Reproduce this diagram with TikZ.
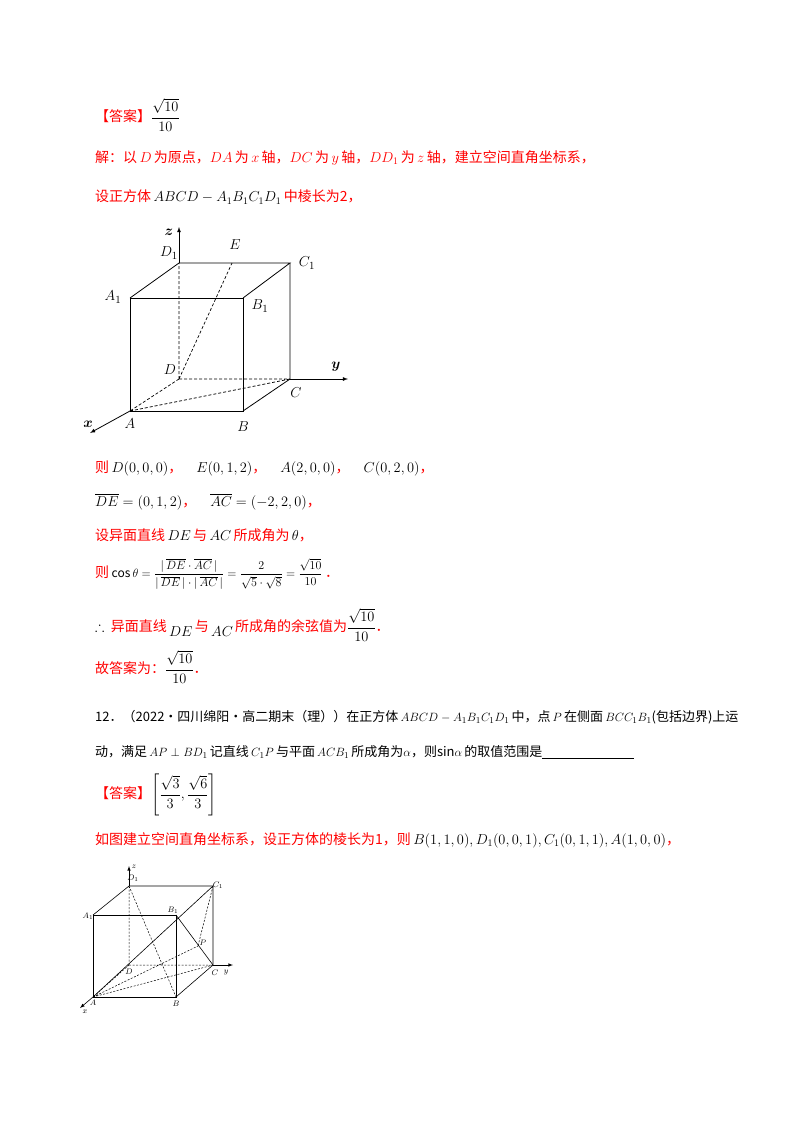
\documentclass[tikz,border=0pt]{standalone}
\usepackage{amsmath,amssymb,bm}
\usepackage{fontspec}
\setmainfont{Noto Sans CJK SC}
\definecolor{ansred}{RGB}{255,0,0}
\begin{document}
\begin{tikzpicture}[x=1pt,y=-1pt,
  txt/.style={anchor=west,inner sep=0pt,font=\fontsize{14}{16}\selectfont},
  rtxt/.style={txt,text=ansred},
  lbl/.style={inner sep=0pt,font=\fontsize{15}{16}\selectfont},
  slbl/.style={inner sep=0pt,font=\fontsize{8}{9}\selectfont},
  edge/.style={line width=0.8pt},
  hid/.style={line width=0.7pt,dashed,dash pattern=on 3pt off 2pt},
  axis/.style={line width=0.8pt,-latex}]
\useasboundingbox (0,0) rectangle (800,1132);
\fill[white] (0,0) rectangle (800,1132);
% ---- text ----
\node[rtxt] (t1) at (95,115) {【答案】\textcolor{black}{$\dfrac{\sqrt{10}}{10}$}};
\node[rtxt] (t2) at (95,158) {解：以\,$D$\,为原点，$DA$\,为\,$x$\,轴，$DC$\,为\,$y$\,轴，$DD_1$\,为\,$z$\,轴，建立空间直角坐标系，};
\node[rtxt] (t3) at (95,197) {设正方体\,\textcolor{black}{$ABCD-A_1B_1C_1D_1$}\,中棱长为2，};
\node[rtxt] (t5) at (95,468) {则\,\textcolor{black}{$D(0,0,0)$}，\quad\textcolor{black}{$E(0,1,2)$}，\quad\textcolor{black}{$A(2,0,0)$}，\quad\textcolor{black}{$C(0,2,0)$}，};
\node[rtxt] (t6) at (95,502) {\textcolor{black}{$\overline{DE}=(0,1,2)$}，\quad\textcolor{black}{$\overline{AC}=(-2,2,0)$}，};
\node[rtxt] (t7) at (95,535) {设异面直线\,\textcolor{black}{$DE$}\,与\,\textcolor{black}{$AC$}\,所成角为\,\textcolor{black}{$\theta$}，};
\node[rtxt] (t8) at (95,574) {则\,\textcolor{black}{\fontsize{12}{13}\selectfont$\cos\theta=\dfrac{|\,\overline{DE}\cdot\overline{AC}\,|}{|\,\overline{DE}\,|\cdot|\,\overline{AC}\,|}=\dfrac{2}{\sqrt5\cdot\sqrt8}=\dfrac{\sqrt{10}}{10}$}\,．};
\node[rtxt] (t9) at (95,625) {\textcolor{black}{$\therefore$}\ \ 异面直线\,\raisebox{-5pt}{\textcolor{black}{$DE$}}\,与\,\raisebox{-5pt}{\textcolor{black}{$AC$}}\,所成角的余弦值为\textcolor{black}{$\dfrac{\sqrt{10}}{10}$}．};
\node[rtxt] (t10) at (95,667) {故答案为：\textcolor{black}{$\dfrac{\sqrt{10}}{10}$}．};
\node[txt,font=\fontsize{13}{15}\selectfont] (t11) at (95,717) {12．（2022·四川绵阳·高二期末（理））在正方体\,$ABCD-A_1B_1C_1D_1$\,中，点\,$P$\,在侧面\,$BCC_1B_1$(包括边界)上运};
\node[txt,font=\fontsize{13}{15}\selectfont] (t12) at (95,752) {动，满足\,$AP\perp BD_1$\,记直线\,$C_1P$\,与平面\,$ACB_1$\,所成角为$\alpha$，则sin$\alpha$\,的取值范围是\rule[-2pt]{92pt}{0.6pt}};
\node[rtxt] (t13) at (95,795) {【答案】\textcolor{black}{$\left[\dfrac{\sqrt3}{3},\dfrac{\sqrt6}{3}\right]$}};
\node[rtxt] (t14) at (95,840) {如图建立空间直角坐标系，设正方体的棱长为1，则\,\textcolor{black}{$B(1,1,0),D_1(0,0,1),C_1(0,1,1),A(1,0,0)$}，};
% ---- cube 1 ----
\coordinate (A) at (130,411); \coordinate (B) at (243,411);
\coordinate (C) at (290,379); \coordinate (D) at (179,379);
\coordinate (A1) at (130,298); \coordinate (B1) at (243,298);
\coordinate (C1) at (290,263); \coordinate (D1) at (179,263);
\coordinate (E) at (232,263);
\coordinate (zt) at (179,227); \coordinate (yt) at (348,379); \coordinate (xt) at (90,433);
\draw[edge] (A) -- (B) -- (B1) -- (A1) -- cycle;
\draw[edge] (A1) -- (D1) -- (C1) -- (B1);
\draw[edge] (B) -- (C) -- (C1);
\draw[hid] (D) -- (D1) (D) -- (C) (D) -- (A) (A) -- (C) (D) -- (E);
\draw[axis] (D1) -- (zt);
\draw[axis] (C) -- (yt);
\draw[axis] (A) -- (xt);
\node[lbl] (lz) at (169,232) {$\bm{z}$};
\node[lbl] (ly) at (336,367) {$\bm{y}$};
\node[lbl] (lx) at (88,424) {$\bm{x}$};
\node[lbl] (lD1) at (169,253) {$D_1$};
\node[lbl] (lE) at (235,245) {$E$};
\node[lbl] (lC1) at (307,263) {$C_1$};
\node[lbl] (lA1) at (113,297) {$A_1$};
\node[lbl] (lB1) at (260,306) {$B_1$};
\node[lbl] (lD) at (170,370) {$D$};
\node[lbl] (lC) at (296,393) {$C$};
\node[lbl] (lA) at (130,424) {$A$};
\node[lbl] (lB) at (243,427) {$B$};
% ---- cube 2 ----
\coordinate (a) at (93,997); \coordinate (b) at (176,997);
\coordinate (c) at (213,965); \coordinate (d) at (129,965);
\coordinate (a1) at (93,915); \coordinate (b1) at (176,915);
\coordinate (c1) at (213,886); \coordinate (d1) at (129,886);
\coordinate (p) at (198,946);
\coordinate (z2) at (129,866); \coordinate (y2) at (233,965); \coordinate (x2) at (80,1008);
\draw[line width=0.6pt] (a) -- (b) -- (b1) -- (a1) -- cycle;
\draw[line width=0.6pt] (a1) -- (d1) -- (c1) -- (c) -- (b);
\draw[line width=0.6pt] (a) -- (c1) (b1) -- (c);
\draw[line width=0.5pt,dashed,dash pattern=on 2pt off 1.5pt] (d) -- (d1) (d) -- (c) (d) -- (a) (a) -- (c) (a) -- (p) (c1) -- (p) (d1) -- (b);
\draw[line width=0.6pt,-latex] (d1) -- (z2);
\draw[line width=0.6pt,-latex] (c) -- (y2);
\draw[line width=0.6pt,-latex] (a) -- (x2);
\node[slbl] (mz) at (134,867) {$z$};
\node[slbl] (my) at (226,973) {$y$};
\node[slbl] (mx) at (85,1012) {$x$};
\node[slbl] (mD1) at (133,878) {$D_1$};
\node[slbl] (mC1) at (218,885) {$C_1$};
\node[slbl] (mA1) at (88,916) {$A_1$};
\node[slbl] (mB1) at (173,910) {$B_1$};
\node[slbl] (mP) at (203,943) {$P$};
\node[slbl] (mD) at (129,972) {$D$};
\node[slbl] (mC) at (215,973) {$C$};
\node[slbl] (mA) at (93,1003) {$A$};
\node[slbl] (mB) at (176,1004) {$B$};
\end{tikzpicture}
\end{document}
